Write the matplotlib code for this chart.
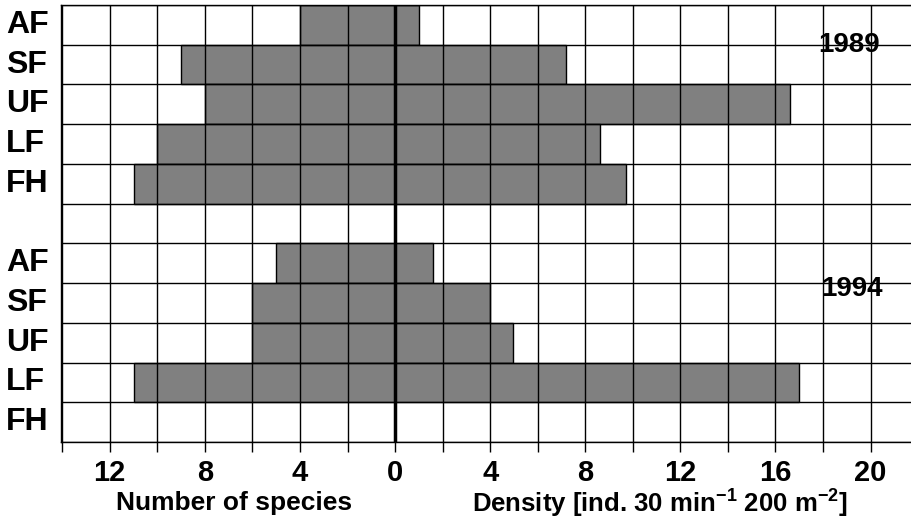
# Back-to-back bar chart: number of species (left) and density (right) per habitat, 1989 vs 1994
import matplotlib
matplotlib.use("Agg")
import matplotlib.pyplot as plt
from matplotlib.transforms import blended_transform_factory

plt.rcParams['font.family'] = ['Liberation Sans', 'DejaVu Sans']
plt.rcParams['font.weight'] = 'bold'
plt.rcParams['mathtext.fontset'] = 'custom'
plt.rcParams['mathtext.rm'] = 'Liberation Sans:bold'
plt.rcParams['mathtext.bf'] = 'Liberation Sans:bold'

# habitat rows, top to bottom
habitats = ["AF", "SF", "UF", "LF", "FH"]

species_1989 = [4, 9, 8, 10, 11]
density_1989 = [1.0, 7.2, 16.6, 8.6, 9.7]

species_1994 = [5, 6, 6, 11, 0]
density_1994 = [1.6, 4.0, 4.95, 17.0, 0]

years = ["1989", "1994"]

fig = plt.figure(figsize=(9.11, 5.18), dpi=100)
ax = fig.add_axes([61 / 911, 1 - 442 / 518, 1 - 61 / 911, 437 / 518])

# rows 0-4 are 1989, row 5 is empty, rows 6-10 are 1994
row_1989 = [i + 0.5 for i in range(len(habitats))]
row_1994 = [i + 6.5 for i in range(len(habitats))]

bar_color = "#808080"
ax.barh(row_1989, [-s for s in species_1989], height=1.0, color=bar_color, edgecolor="black", linewidth=1)
ax.barh(row_1989, density_1989, height=1.0, color=bar_color, edgecolor="black", linewidth=1)
ax.barh(row_1994, [-s for s in species_1994], height=1.0, color=bar_color, edgecolor="black", linewidth=1)
ax.barh(row_1994, density_1994, height=1.0, color=bar_color, edgecolor="black", linewidth=1)

ax.set_xlim(-14.05, 21.7)
ax.set_ylim(11, 0)

# grid every 2 units horizontally and at every row boundary
xt = list(range(-14, 21, 2))
ax.set_xticks(xt)
ax.set_xticklabels([str(abs(v)) if v % 4 == 0 and v > -14 else "" for v in xt])
ax.set_yticks(range(12))
ax.set_yticklabels([])
ax.tick_params(axis="y", length=0)
ax.tick_params(axis="x", direction="out", length=7, width=1, pad=5, labelsize=21)
ax.grid(True, color="black", linewidth=1)
ax.set_axisbelow(False)
ax.axvline(0, color="black", linewidth=2.5, zorder=5)

for sp in ["left", "top", "bottom"]:
    ax.spines[sp].set_linewidth(1)
ax.spines["right"].set_visible(False)

# row labels on the far left
tr = blended_transform_factory(fig.transFigure, ax.transData)
for r, name in zip(row_1989, habitats):
    ax.text(6 / 911, r, name, transform=tr, ha="left", va="center", fontsize=23, fontweight="bold")
for r, name in zip(row_1994, habitats):
    ax.text(6 / 911, r, name, transform=tr, ha="left", va="center", fontsize=23, fontweight="bold")

# year labels
ax.text(19.1, 1.0, years[0], ha="center", va="center", fontsize=20, fontweight="bold")
ax.text(19.2, 7.15, years[1], ha="center", va="center", fontsize=20, fontweight="bold")

fig.text(234 / 911, 1 - 503 / 518, "Number of species", ha="center", va="center",
         fontsize=19, fontweight="bold")
fig.text(660 / 911, 1 - 503 / 518, "Density [ind. 30 min$^{-1}$ 200 m$^{-2}$]", ha="center", va="center",
         fontsize=18.5, fontweight="bold")

fig.savefig("out.png", dpi=100)
